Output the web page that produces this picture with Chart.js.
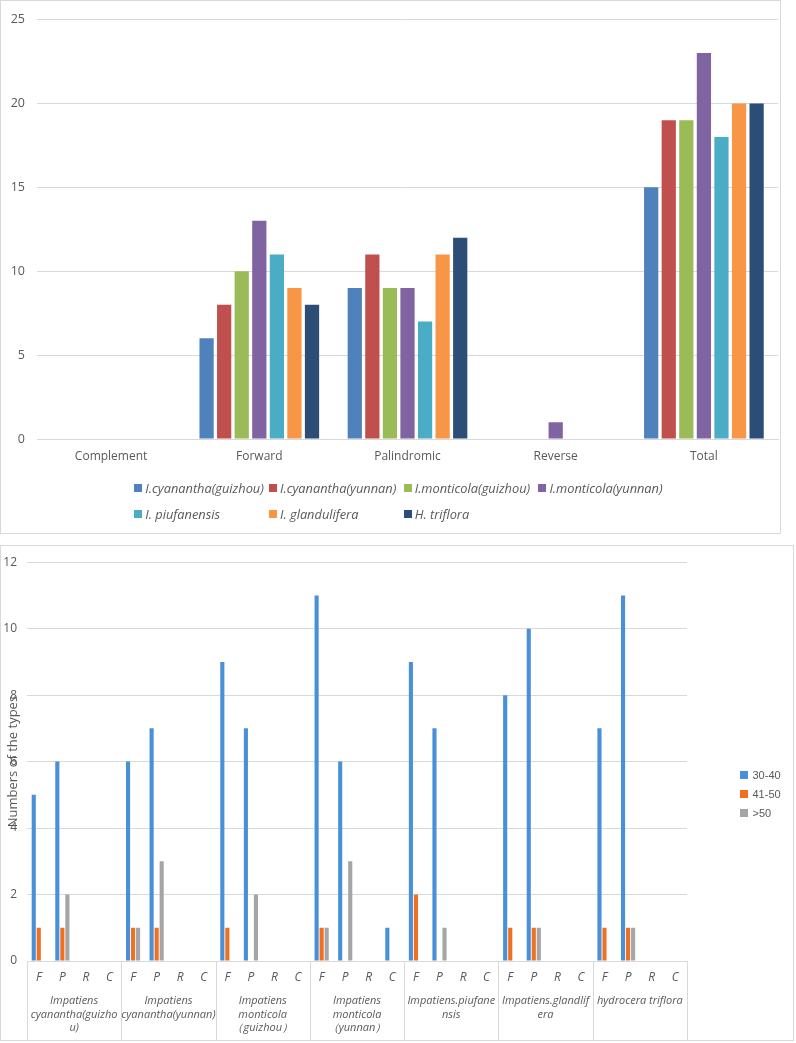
<!DOCTYPE html>
<html><head><meta charset="utf-8">
<script src="https://cdn.jsdelivr.net/npm/chart.js@4.4.0/dist/chart.umd.min.js"></script>
<style>
body{margin:0;background:#fff;width:796px;height:1043px;position:relative;overflow:hidden;font-family:"Open Sans",sans-serif;}
.box{position:absolute;box-sizing:border-box;border:1px solid #D9D9D9;pointer-events:none;}
canvas{position:absolute;}
.leg{position:absolute;left:0;top:0;color:#595959;}
.it{position:absolute;white-space:nowrap;display:flex;align-items:center;height:16px;}
.sw{display:inline-block;width:8px;height:8px;}
#leg1 .it{font:italic 12.8px "Open Sans",sans-serif;}
#leg1 .tx{margin-left:3px;}
#leg2 .it{font:11px "Liberation Sans",Arial,sans-serif;}
#leg2 .tx{margin-left:4.5px;}
</style></head>
<body>
<canvas id="c1" width="781" height="534" style="left:0;top:0"></canvas>
<div class="box" style="left:0;top:0;width:781px;height:534px"></div>
<canvas id="c2" width="794" height="496" style="left:0;top:545px"></canvas>
<div class="box" style="left:0;top:545px;width:794px;height:496px"></div>
<div class="leg" id="leg1"></div>
<div class="leg" id="leg2"></div>
<script>
// ---------- Top chart data ----------
const categories = ['Complement','Forward','Palindromic','Reverse','Total'];
const speciesNames = ['I.cyanantha(guizhou)','I.cyanantha(yunnan)','I.monticola(guizhou)','I.monticola(yunnan)','I. piufanensis','I. glandulifera','H. triflora'];
const cyananthaGuizhou = [0,6,9,0,15];
const cyananthaYunnan  = [0,8,11,0,19];
const monticolaGuizhou = [0,10,9,0,19];
const monticolaYunnan  = [0,13,9,1,23];
const piufanensis      = [0,11,7,0,18];
const glandulifera     = [0,9,11,0,20];
const hTriflora        = [0,8,12,0,20];
const topTicks = [0,5,10,15,20,25];

// ---------- Bottom chart data ----------
const repeatTypes = ['F','P','R','C'];
const speciesGroups = [
  ['Impatiens','cyanantha(guizho','u)'],
  ['Impatiens','cyanantha(yunnan)'],
  ['Impatiens','monticola','（guizhou）'],
  ['Impatiens','monticola','（yunnan）'],
  ['Impatiens.piufane','nsis'],
  ['Impatiens.glandlif','era'],
  ['hydrocera triflora']
];
const sizeClasses = ['30-40','41-50','>50'];
const len30to40 = [5,6,0,0, 6,7,0,0, 9,7,0,0, 11,6,0,1, 9,7,0,0, 8,10,0,0, 7,11,0,0];
const len41to50 = [1,1,0,0, 1,1,0,0, 1,0,0,0, 1,0,0,0, 2,0,0,0, 1,1,0,0, 1,1,0,0];
const lenOver50 = [0,2,0,0, 1,3,0,0, 0,2,0,0, 1,3,0,0, 0,1,0,0, 0,1,0,0, 0,1,0,0];
const bottomTicks = [0,2,4,6,8,10,12];

const GRID = '#D9D9D9', TXT = '#595959';
const topColors = ['#4F81BD','#C0504D','#9BBB59','#8064A2','#4BACC6','#F79646','#2C4D75'];
const topSeries = [cyananthaGuizhou,cyananthaYunnan,monticolaGuizhou,monticolaYunnan,piufanensis,glandulifera,hTriflora];

const chart1 = new Chart(document.getElementById('c1'), {
  type: 'bar',
  data: {
    labels: categories,
    datasets: topSeries.map((d,i)=>({label: speciesNames[i], data: d, backgroundColor: topColors[i],
      borderWidth: 0, categoryPercentage: 0.83, barPercentage: 0.81}))
  },
  options: {
    responsive: false, animation: false, devicePixelRatio: 1,
    layout: {padding: {top: 17, right: 3, left: 0, bottom: 0}},
    plugins: {legend: {display: false}, tooltip: {enabled: false}},
    scales: {
      x: {
        grid: {display: false, drawTicks: false},
        border: {color: GRID},
        ticks: {color: TXT, font: {family: 'Open Sans', size: 12}, padding: 10.5, maxRotation: 0},
        afterFit: s => { s.height = 95; }
      },
      y: {
        min: 0, max: 25,
        afterBuildTicks: s => { s.ticks = topTicks.map(v=>({value: v})); },
        grid: {color: GRID, drawTicks: false},
        border: {display: false},
        ticks: {color: TXT, font: {family: 'Open Sans', size: 12.5}, padding: 12},
        afterFit: s => { s.width = 37; }
      }
    }
  }
});

// ---------- bottom chart ----------
const bottomColors = ['#4A90D9','#F07022','#A5A5A5'];
const bottomSeries = [len30to40,len41to50,lenOver50];
const xLabels = [];
speciesGroups.forEach(()=>repeatTypes.forEach(t=>xLabels.push(t)));

const groupPlugin = {
  id: 'groupPlugin',
  afterDraw(chart) {
    const {ctx, chartArea} = chart;
    const x = chart.scales.x;
    const n = repeatTypes.length;
    ctx.save();
    ctx.strokeStyle = GRID; ctx.lineWidth = 1;
    for (let g = 0; g <= speciesGroups.length; g++) {
      const px = Math.round(x.getPixelForValue(g*n - 0.5)) + 0.5;
      ctx.beginPath(); ctx.moveTo(px, chartArea.bottom); ctx.lineTo(px, chart.height); ctx.stroke();
    }
    ctx.fillStyle = TXT;
    ctx.font = 'italic 11px "Open Sans"';
    ctx.textAlign = 'center'; ctx.textBaseline = 'middle';
    speciesGroups.forEach((lines, g) => {
      const cx = (x.getPixelForValue(g*n - 0.5) + x.getPixelForValue(g*n + n - 0.5)) / 2;
      lines.forEach((ln, k) => ctx.fillText(ln, cx, chartArea.bottom + 40 + k*13.5));
    });
    ctx.restore();
  }
};

const chart2 = new Chart(document.getElementById('c2'), {
  type: 'bar',
  data: {
    labels: xLabels,
    datasets: bottomSeries.map((d,i)=>({label: sizeClasses[i], data: d, backgroundColor: bottomColors[i],
      borderWidth: 0, categoryPercentage: 0.64, barPercentage: 0.82}))
  },
  options: {
    responsive: false, animation: false, devicePixelRatio: 1,
    layout: {padding: {top: 10, right: 107, left: 0, bottom: 0}},
    plugins: {legend: {display: false}, tooltip: {enabled: false}},
    scales: {
      x: {
        grid: {display: false, drawTicks: false},
        border: {color: GRID},
        ticks: {color: TXT, font: {family: 'Open Sans', size: 12, style: 'italic'}, padding: 9, autoSkip: false, maxRotation: 0},
        afterFit: s => { s.height = 80; }
      },
      y: {
        min: 0, max: 12,
        afterBuildTicks: s => { s.ticks = bottomTicks.map(v=>({value: v})); },
        grid: {color: GRID, drawTicks: false},
        border: {display: false},
        ticks: {color: TXT, font: {family: 'Open Sans', size: 12}, padding: 10},
        title: {display: true, text: 'Numbers of the types', color: TXT, font: {family: 'Open Sans', size: 13}, padding: {top: 5, bottom: 0}},
        afterFit: s => { s.width = 27; }
      }
    }
  },
  plugins: [groupPlugin]
});

// ---------- HTML legends built from chart datasets ----------
const leg1 = document.getElementById('leg1');
chart1.data.datasets.forEach((ds,i)=>{
  const row = Math.floor(i/4), col = i%4;
  const it = document.createElement('div'); it.className = 'it';
  it.style.left = (134.3 + col*134.7) + 'px';
  it.style.top = (480 + row*26) + 'px';
  it.innerHTML = '<span class="sw" style="background:'+ds.backgroundColor+'"></span><span class="tx"></span>';
  it.querySelector('.tx').textContent = ds.label;
  leg1.appendChild(it);
});
const leg2 = document.getElementById('leg2');
chart2.data.datasets.forEach((ds,i)=>{
  const it = document.createElement('div'); it.className = 'it';
  it.style.left = '740px';
  it.style.top = (767 + i*19) + 'px';
  it.innerHTML = '<span class="sw" style="background:'+ds.backgroundColor+'"></span><span class="tx"></span>';
  it.querySelector('.tx').textContent = ds.label;
  leg2.appendChild(it);
});
</script>
</body></html>
